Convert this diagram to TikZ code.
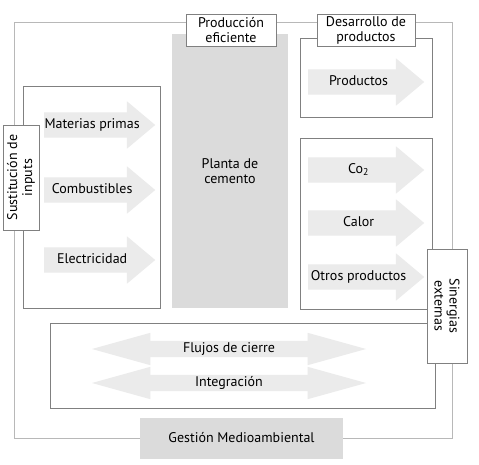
\documentclass[tikz,border=0pt]{standalone}
\usepackage{fontspec}
\setmainfont{PT Sans}
\usetikzlibrary{shapes.arrows,positioning}

\definecolor{arrowgray}{HTML}{EBEBEB}
\definecolor{plantgray}{HTML}{DBDBDB}
\definecolor{linegray}{HTML}{808080}
\definecolor{framegray}{HTML}{B8B8B8}

\begin{document}
\begin{tikzpicture}[x=1pt,y=-1pt,
	every node/.style={font=\fontsize{14}{15}\selectfont},
	panel/.style={draw=linegray,line width=0.8pt,fill=white,inner sep=0pt},
	tag/.style={draw=linegray,line width=0.6pt,fill=white,align=center,inner sep=0pt},
	plant/.style={fill=plantgray,align=center,inner sep=0pt},
	flow/.style={single arrow,fill=arrowgray,anchor=tail,inner xsep=0pt,inner ysep=6pt,
		text height=10pt,text depth=3pt,single arrow head extend=11pt,
		single arrow tip angle=80},
	twoway/.style={double arrow,fill=arrowgray,inner xsep=0pt,inner ysep=1.5pt,
		text height=10pt,text depth=3pt,double arrow head extend=8pt,
		double arrow tip angle=31,minimum height=274pt}]
	\useasboundingbox (0,0) rectangle (479,465);

	% outer frame
	\draw[framegray,line width=0.8pt] (14,22) rectangle (452,438);

	\node[plant,minimum width=116pt,minimum height=274pt] (planta) at (230,171) {Planta de\\cemento};

	\node[panel,minimum width=137pt,minimum height=222pt] (entradas) at (91.5,197) {};
	\node[panel,minimum width=132pt,minimum height=79pt] (productos) at (366,77.5) {};
	\node[panel,minimum width=132pt,minimum height=171pt] (salidas) at (366,223.5) {};
	\node[panel,minimum width=385pt,minimum height=85pt] (cierre) at (242.5,365.5) {};

	% inputs
	\node[flow,minimum height=111pt] (materias) at (44,125) {Materias primas};
	\node[flow,minimum height=111pt] (combust) at (44,190) {Combustibles};
	\node[flow,minimum height=111pt] (electr) at (44,260) {Electricidad};

	% outputs
	\node[flow,minimum height=116pt] (prod) at (308,82) {Productos};
	\node[flow,minimum height=116pt] (co) at (308,170) {Co\textsubscript{2}};
	\node[flow,minimum height=116pt] (calor) at (308,223) {Calor};
	\node[flow,minimum height=116pt] (otros) at (308,277) {Otros productos};

	\node[twoway] (flujos) at (229,349) {Flujos de cierre};
	\node[twoway] (integr) at (229,383) {Integración};

	% labels on the frame
	\node[tag,minimum width=90pt,minimum height=32pt] (eficiente) at (231,30) {Producción\\eficiente};
	\node[tag,minimum width=98pt,minimum height=32pt] (desarrollo) at (366,30) {Desarrollo de\\productos};
	\node[tag,rotate=90,minimum width=105pt,minimum height=36pt] (sustitucion) at (21,177.5) {Sustitución de\\inputs};
	\node[tag,rotate=-90,minimum width=114pt,minimum height=40pt] (sinergias) at (447,306) {Sinergias\\externas};
	\node[plant,minimum width=203pt,minimum height=41pt] (gestion) at (241.5,438) {Gestión Medioambiental};
\end{tikzpicture}
\end{document}
